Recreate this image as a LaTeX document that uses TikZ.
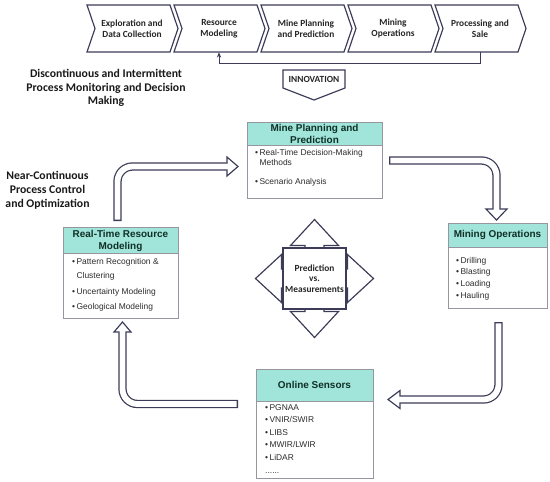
\documentclass[tikz,border=0pt]{standalone}
\usepackage{fontspec}
\setmainfont{Liberation Sans}
\newfontfamily\carlito{Carlito}
\usetikzlibrary{calc,arrows.meta}

\definecolor{linedark}{RGB}{60,60,88}
\definecolor{boxgray}{RGB}{150,150,160}
\definecolor{headteal}{RGB}{160,228,218}
\definecolor{headtext}{RGB}{16,48,38}
\definecolor{bodytext}{RGB}{45,45,45}

\tikzset{
	chev/.style={draw=linedark, line width=1pt, fill=white, line join=miter},
	chevtext/.style={font=\carlito\bfseries\fontsize{8}{9}\selectfont, align=center, text=black!85, minimum height=14.1mm, inner sep=0pt},
	sidetext/.style={font=\carlito\bfseries\fontsize{10}{11.8}\selectfont, align=center, text=black!90},
	headbox/.style={draw=boxgray, line width=0.8pt, fill=headteal},
	bodybox/.style={draw=boxgray, line width=0.8pt, fill=white},
	headlabel/.style={font=\bfseries\fontsize{8.5}{10.2}\selectfont, align=center, text=headtext},
	item/.style={font=\fontsize{7.2}{8}\selectfont, anchor=west, inner sep=0pt, text=bodytext, text height=1.7mm, text depth=0.45mm},
	shaftdark/.style={draw=linedark, line width=2.5mm, rounded corners=4.5mm},
	shaftlight/.style={draw=white, line width=1.75mm, rounded corners=4.5mm, shorten <=0.4mm, shorten >=-0.8mm},
	blockhead/.style={draw=linedark, line width=1pt, fill=white, line join=miter},
}

\begin{document}
\begin{tikzpicture}[x=0.3mm, y=-0.3mm]
			%%%%% START %%%%%
			\useasboundingbox (0,0) rectangle (550,481);
			
			% value chain
			\foreach \l/\nm/\txt in {87/chexplore/{Exploration and\\Data Collection}, 174/chmodel/{Resource\\Modeling}, 261/chplan/{Mine Planning\\and Prediction}, 348/chmining/{Mining\\Operations}, 435/chsale/{Processing and\\Sale}}{
				\draw[chev] (\l,5) -- ++(83,0) -- ++(8,23.5) -- ++(-8,23.5) -- ++(-83,0) -- ++(8,-23.5) -- cycle;
				\node[chevtext] (\nm) at (\l+45,28.5) {\txt};
			}
			\draw[line width=0.8pt, draw=linedark, -{Stealth[length=1.6mm,width=1.3mm]}] (chsale.south) -- ++(0,11) -| (chmodel.south);
			
			\draw[chev] (283,70) -- (345,70) -- (345,88) -- (314,100) -- (283,88) -- cycle;
			\node[chevtext, minimum height=0pt] (innov) at (314,79) {INNOVATION};
			
			\node[sidetext] (discrete) at (106,88) {Discontinuous and Intermittent\\Process Monitoring and Decision\\Making};
			\node[sidetext] (nearcont) at (47.5,190) {Near-Continuous\\Process Control\\and Optimization};
			
			% mine planning
			\draw[bodybox] (247,145) rectangle (382,198);
			\draw[headbox] (247,122) rectangle (382,145);
			\node[headlabel] (plan) at (314.5,133.5) {Mine Planning and\\Prediction};
			\node[item] (plan1) at (255,153) {\textbullet\,Real-Time Decision-Making};
			\node[item] (plan1b) at (255,163) {\phantom{\textbullet\,}Methods};
			\node[item] (plan2) at (255,182) {\textbullet\,Scenario Analysis};
			
			% resource modeling
			\draw[bodybox] (63,253) rectangle (178,318);
			\draw[headbox] (63,227) rectangle (178,253);
			\node[headlabel] (resource) at (120.5,241) {Real-Time Resource\\Modeling};
			\node[item] (res1) at (72,262) {\textbullet\,Pattern Recognition \&};
			\node[item] (res1b) at (72,276) {\phantom{\textbullet\,}Clustering};
			\node[item] (res2) at (72,292) {\textbullet\,Uncertainty Modeling};
			\node[item] (res3) at (72,307) {\textbullet\,Geological Modeling};
			
			% mining operations
			\draw[bodybox] (448,247) rectangle (547,308);
			\draw[headbox] (448,223) rectangle (547,247);
			\node[headlabel] (ops) at (497.5,235) {Mining Operations};
			\foreach \t [count=\i] in {Drilling,Blasting,Loading,Hauling}
				\node[item] (ops\i) at (456,{249.3+11.7*\i}) {\textbullet\,\t};
			
			% online sensors
			\draw[bodybox] (256,401) rectangle (373,478);
			\draw[headbox] (256,369) rectangle (373,401);
			\node[headlabel] (sensors) at (314.5,385) {Online Sensors};
			\foreach \t [count=\i] in {PGNAA,VNIR/SWIR,LIBS,MWIR/LWIR,LiDAR}
				\node[item] (sens\i) at (265,{395.4+12.6*\i}) {\textbullet\,\t};
			\node[item] (sens6) at (265,471) {......};
			
			% prediction vs measurements
			\begin{scope}[shift={(314.5,278.5)}]
				\draw[chev] (-9.5,-33) -- (-24,-33) -- (0,-59) -- (24,-33) -- (9.5,-33) -- (9.5,-9.5) -- (33,-9.5) -- (33,-24) -- (59,0) -- (33,24) -- (33,9.5) -- (9.5,9.5) -- (9.5,33) -- (24,33) -- (0,59) -- (-24,33) -- (-9.5,33) -- (-9.5,9.5) -- (-33,9.5) -- (-33,24) -- (-59,0) -- (-33,-24) -- (-33,-9.5) -- (-9.5,-9.5) -- cycle;
				\draw[chev] (-31.5,-30.5) rectangle (31.5,30.5);
			\end{scope}
			\node[chevtext, minimum height=0pt] (predict) at (314.5,278.5) {Prediction\\vs.\\Measurements};
			
			% loop arrows
			\coordinate (resout) at (117.5,221);
			\coordinate (planin) at (227,166.5);
			\draw[shaftdark] (resout) |- (planin);
			\draw[blockhead] ($(planin)+(0,-9.5)$) -- ($(planin)+(11,0)$) -- ($(planin)+(0,9.5)$) -- cycle;
			\draw[shaftlight] (resout) |- (planin);
			
			\coordinate (planout) at (389,160.5);
			\coordinate (opsin) at (496.5,209);
			\draw[shaftdark] (planout) -| (opsin);
			\draw[blockhead] ($(opsin)+(-10.5,0)$) -- ($(opsin)+(0,11)$) -- ($(opsin)+(10.5,0)$) -- cycle;
			\draw[shaftlight] (planout) -| (opsin);
			
			\coordinate (opsout) at (498.5,322);
			\coordinate (sensin) at (400,399.5);
			\draw[shaftdark] (opsout) |- (sensin);
			\draw[blockhead] ($(sensin)+(0,-9)$) -- ($(sensin)+(-12,0)$) -- ($(sensin)+(0,9)$) -- cycle;
			\draw[shaftlight] (opsout) |- (sensin);
			
			\coordinate (sensout) at (238,404);
			\coordinate (resin) at (122.5,332);
			\draw[shaftdark] (sensout) -| (resin);
			\draw[blockhead] ($(resin)+(-8.5,0)$) -- ($(resin)+(0,-10)$) -- ($(resin)+(8.5,0)$) -- cycle;
			\draw[shaftlight] (sensout) -| (resin);
			
			%%%%% END %%%%%
\end{tikzpicture}
\end{document}
